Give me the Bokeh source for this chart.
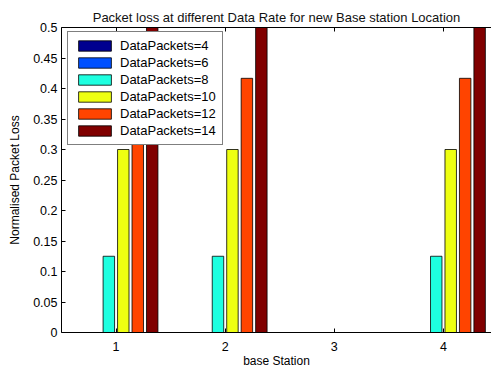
from bokeh.plotting import figure
from bokeh.models import ColumnDataSource, LinearAxis, FixedTicker, Range1d, Legend, LegendItem
from bokeh.transform import dodge
from bokeh.embed import file_html
from bokeh.resources import INLINE

stations = [1, 2, 3, 4]
series_names = ["DataPackets=4", "DataPackets=6", "DataPackets=8",
                "DataPackets=10", "DataPackets=12", "DataPackets=14"]
dp4 = [0, 0, 0, 0]
dp6 = [0, 0, 0, 0]
dp8 = [0.125, 0.125, 0, 0.125]
dp10 = [0.3, 0.3, 0, 0.3]
dp12 = [0.4167, 0.4167, 0, 0.4167]
dp14 = [0.5, 0.5, 0, 0.5]
colors = ["#00008F", "#0050FF", "#1EFFE0", "#EEFF11", "#FF4400", "#800000"]
y_ticks = [0, 0.05, 0.1, 0.15, 0.2, 0.25, 0.3, 0.35, 0.4, 0.45, 0.5]
y_tick_labels = ["0", "0.05", "0.1", "0.15", "0.2", "0.25", "0.3", "0.35", "0.4", "0.45", "0.5"]

source = ColumnDataSource(dict(x=stations, dp4=dp4, dp6=dp6, dp8=dp8,
                               dp10=dp10, dp12=dp12, dp14=dp14))
cols = ["dp4", "dp6", "dp8", "dp10", "dp12", "dp14"]

FONT = "Liberation Sans"
p = figure(width=491, height=370, output_backend="svg", toolbar_location=None,
           x_range=Range1d(0.5, 4.44), y_range=Range1d(0, 0.5),
           min_border_left=61, min_border_right=0, min_border_top=27, min_border_bottom=34,
           x_axis_location=None, y_axis_location=None)
p.outline_line_color = None
p.grid.visible = False
p.background_fill_color = "white"
p.border_fill_color = "white"

p.title.text = "Packet loss at different Data Rate for new Base station Location"
p.title.align = "center"
p.title.vertical_align = "middle"
p.title.text_font = FONT
p.title.text_font_size = "13px"
p.title.text_font_style = "normal"
p.title.text_color = "#111111"
p.title.standoff = 4

renderers = []
step = 0.1325
for i, c in enumerate(cols):
    r = p.vbar(x=dodge("x", (i - 2.5) * step, range=p.x_range), top=c, bottom=0,
               width=0.105, source=source, fill_color=colors[i],
               line_color="black", line_width=0.8)
    renderers.append(r)

def style_axis(ax):
    ax.major_tick_in = 4
    ax.major_tick_out = 0
    ax.minor_tick_line_color = None
    ax.axis_line_color = "black"
    ax.axis_line_width = 1
    ax.major_tick_line_color = "black"
    ax.major_label_text_font = FONT
    ax.major_label_text_font_size = "12.5px"
    ax.major_label_text_color = "black"
    ax.axis_label_text_font = FONT
    ax.axis_label_text_font_size = "12px"
    ax.axis_label_text_font_style = "normal"
    ax.axis_label_text_color = "black"

xb = LinearAxis(ticker=FixedTicker(ticks=stations), axis_label="base Station")
style_axis(xb)
xb.major_label_standoff = 9
xb.axis_label_standoff = 0
p.add_layout(xb, "below")

xt = LinearAxis(ticker=FixedTicker(ticks=stations))
style_axis(xt)
xt.major_label_overrides = {t: "" for t in stations}
xt.major_label_standoff = 0
p.add_layout(xt, "above")

yl = LinearAxis(ticker=FixedTicker(ticks=y_ticks), axis_label="Normalised Packet Loss")
style_axis(yl)
yl.major_label_overrides = {t: s for t, s in zip(y_ticks, y_tick_labels)}
yl.major_label_standoff = 4
yl.axis_label_standoff = 8
p.add_layout(yl, "left")

legend = Legend(items=[LegendItem(label=n, renderers=[r]) for n, r in zip(series_names, renderers)],
                location=(6, 187))
legend.label_text_font = FONT
legend.label_text_font_size = "13px"
legend.label_text_color = "black"
legend.glyph_width = 41
legend.glyph_height = 13
legend.label_height = 13
legend.spacing = 2
legend.padding = 6
legend.margin = 0
legend.label_standoff = 5
legend.border_line_color = "black"
legend.border_line_width = 1
legend.background_fill_alpha = 1
p.add_layout(legend, "center")

open("out.html", "w").write(file_html(p, INLINE))
